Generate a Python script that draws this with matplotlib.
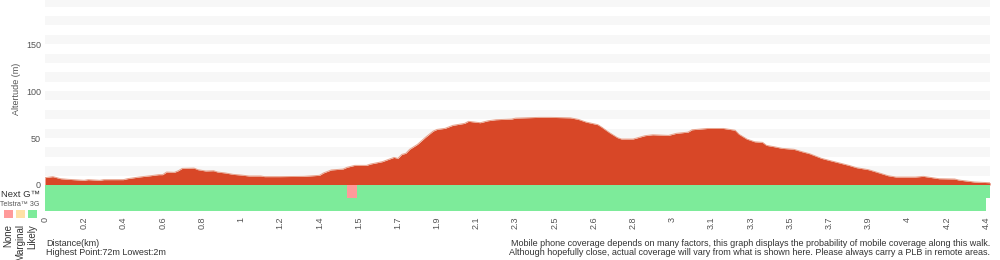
import matplotlib
matplotlib.use("Agg")
import matplotlib.pyplot as plt
from matplotlib.patches import Rectangle

plt.rcParams['font.family'] = ['Liberation Sans', 'DejaVu Sans']

# distance labels, one every 10 samples along the walk
dist_labels = ['0', '0.2', '0.4', '0.6', '0.8', '1', '1.2', '1.4', '1.5', '1.7',
               '1.9', '2.1', '2.3', '2.5', '2.6', '2.8', '3', '3.1', '3.3', '3.5',
               '3.7', '3.9', '4', '4.2', '4.4']

# elevation profile: (sample index, metres)
profile = [
    (0, 7.8), (2, 8.9), (4, 6.7), (6, 6.0), (10, 5.0), (11, 5.7), (14, 5.0), (15, 5.7),
    (20, 5.7), (21, 6.7), (24, 8.5), (27, 9.9), (29, 11.0), (30, 11.0), (31, 13.8),
    (33, 13.5), (34, 15.2), (35, 17.7), (38, 18.0), (39, 16.3), (41, 14.9), (43, 15.2),
    (44, 13.8), (46, 12.8), (48, 11.3), (50, 10.6), (52, 9.6), (55, 9.6), (56, 8.9),
    (60, 8.9), (66, 9.2), (70, 10.3), (71, 12.8), (73, 16.0), (76, 17.0), (77, 18.8),
    (79, 20.9), (82, 20.9), (83, 22.3), (86, 24.8), (89, 29.4), (90, 28.4), (91, 32.6),
    (92, 33.7), (93, 38.0), (95, 43.3), (97, 50.7), (99, 57.4), (100, 59.2), (102, 60.3),
    (104, 63.5), (107, 65.6), (108, 67.8), (111, 66.3), (113, 68.4), (115, 69.5),
    (119, 70.2), (120, 71.2), (126, 72.0), (129, 72.0), (134, 71.5), (136, 69.9),
    (138, 67.0), (141, 64.2), (142, 61.5), (144, 55.6), (146, 50.4), (147, 49.0),
    (150, 49.0), (153, 52.5), (155, 53.5), (159, 52.8), (161, 55.0), (164, 56.3),
    (165, 58.8), (169, 60.2), (173, 60.2), (176, 58.3), (177, 54.0), (179, 48.9),
    (181, 46.0), (183, 45.4), (184, 42.2), (186, 40.7), (188, 39.0), (191, 38.0),
    (193, 35.5), (195, 33.3), (198, 28.4), (200, 26.2), (202, 24.1), (205, 20.9),
    (207, 18.4), (210, 16.3), (212, 13.8), (215, 9.9), (217, 8.5), (222, 8.5),
    (224, 9.2), (228, 6.7), (232, 6.4), (233, 5.3), (237, 3.2), (241, 2.4),
]
sample = [p[0] for p in profile]
elevation = [p[1] for p in profile]

# coverage segments: (start sample, end sample, level)
nextg_cov = [(0, 77, 'Likely'), (77, 79.6, 'None'), (79.6, 241, 'Likely')]
g3_cov = [(0, 240, 'Likely')]

cov_levels = ['None', 'Marginal', 'Likely']
cov_colors = {'None': '#ff9a9a', 'Marginal': '#ffe1a6', 'Likely': '#7deb9a'}

fig = plt.figure(figsize=(10, 2.6), dpi=100)
W, H = 1000.0, 260.0

ax = fig.add_axes([45 / W, 1 - 185 / H, 945 / W, 185 / H])
ax.set_xlim(0, 241)
ax.set_ylim(0, 197)
for lo in range(10, 200, 20):
    ax.axhspan(lo, lo + 10, color='#f7f7f7', lw=0, zorder=0)
ax.fill_between(sample, elevation, 0, color='#d84727', lw=0, zorder=2)
ax.plot(sample, elevation, color='#e8a48e', lw=0.7, zorder=3)
ax.set_xticks([])
ax.set_yticks([0, 50, 100, 150])
ax.tick_params(axis='y', length=0, pad=3, labelsize=6.5, labelcolor='#555555')
ax.set_ylabel('Altertude (m)', fontsize=6.5, color='#555555')
ax.yaxis.set_label_coords((21 - 45) / 945, (185 - 89) / 185)
for s in ax.spines.values():
    s.set_visible(False)

# coverage strip under the profile
cx = fig.add_axes([45 / W, 1 - 211 / H, 945 / W, 26 / H])
cx.set_xlim(0, 241)
cx.set_ylim(0, 2)
for start, end, lev in nextg_cov:
    cx.broken_barh([(start, end - start)], (1, 1), color=cov_colors[lev], lw=0)
for start, end, lev in g3_cov:
    cx.broken_barh([(start, end - start)], (0, 1), color=cov_colors[lev], lw=0)
cx.set_yticks([])
cx.set_xticks(range(0, 10 * len(dist_labels), 10))
cx.set_xticklabels(dist_labels, rotation=90, va='top')
cx.tick_params(axis='x', length=0, pad=4, labelsize=6.5, labelcolor='#555555')
for s in cx.spines.values():
    s.set_visible(False)

# legend on the left
fig.text(40 / W, 1 - 194.5 / H, 'Next G™', ha='right', va='center', fontsize=6.8, color='#333333')
fig.text(20 / W, 1 - 204.5 / H, 'Telstra™ 3G', ha='center', va='center', fontsize=5, color='#555555')
for i, lev in enumerate(cov_levels):
    x0 = 4 + i * 12
    fig.add_artist(Rectangle((x0 / W, 1 - 218 / H), 8.5 / W, 8 / H, transform=fig.transFigure,
                             color=cov_colors[lev], lw=0))
    fig.text((x0 + 4.5) / W, 1 - 224 / H, lev, rotation=90, ha='center', va='top',
             fontsize=7, color='#333333')

# footer notes
fig.text(46 / W, 1 - 243.5 / H, 'Distance(km)', ha='left', va='center', fontsize=6.5, color='#333333')
fig.text(46 / W, 1 - 252.5 / H, 'Highest Point:72m Lowest:2m', ha='left', va='center',
         fontsize=6.5, color='#333333')
fig.text(990 / W, 1 - 243.5 / H,
         'Mobile phone coverage depends on many factors, this graph displays the probability of mobile coverage along this walk.',
         ha='right', va='center', fontsize=6.5, color='#333333')
fig.text(990 / W, 1 - 252.5 / H,
         'Although hopefully close, actual coverage will vary from what is shown here. Please always carry a PLB in remote areas.',
         ha='right', va='center', fontsize=6.5, color='#333333')

fig.savefig('out.png', dpi=100)
